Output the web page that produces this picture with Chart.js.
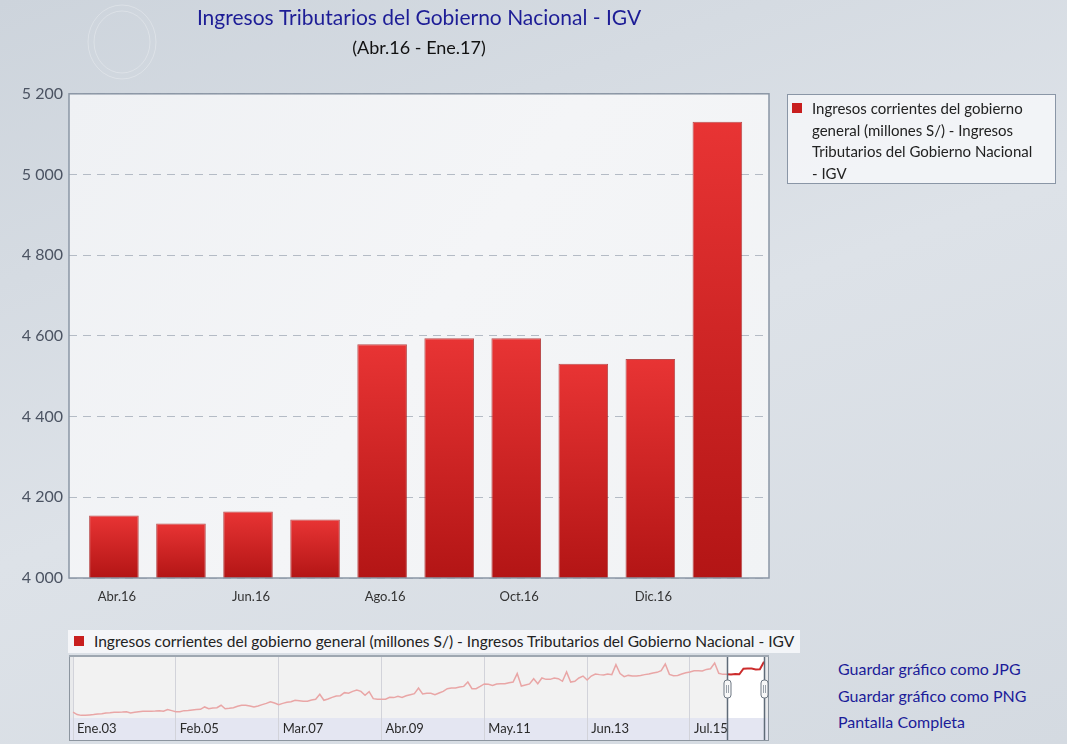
<!DOCTYPE html>
<html lang="es">
<head>
<meta charset="utf-8">
<title>Ingresos Tributarios del Gobierno Nacional - IGV</title>
<script src="https://cdn.jsdelivr.net/npm/chart.js@4.4.1/dist/chart.umd.min.js"></script>
<style>
    html, body { margin: 0; padding: 0; }
    body {
        position: relative;
        width: 1067px;
        height: 744px;
        overflow: hidden;
        font-family: Lato, "Open Sans", sans-serif;
        background: linear-gradient(160deg, #cdd4dc 0%, #dde2e8 50%, #d4dae1 100%);
    }
    #mainChart { position: absolute; left: 0; top: 0; }
    #navChart  { position: absolute; left: 68px; top: 654px; }

    .legend-side {
        position: absolute;
        left: 787px; top: 94px;
        width: 267px; height: 88px;
        border: 1px solid #8a96a6;
        background: rgba(246, 247, 249, 0.85);
        box-sizing: content-box;
    }
    .legend-side .txt {
        position: absolute;
        left: 24px; top: 3px;
        font-size: 15px;
        line-height: 21.7px;
        color: #222;
    }
    .swatch {
        position: absolute;
        width: 10px; height: 10px;
        background: #c81e1e;
    }
    .legend-nav {
        position: absolute;
        left: 68px; top: 630px;
        width: 732px; height: 23px;
        background: rgba(246, 247, 249, 0.9);
    }
    .legend-nav .txt {
        position: absolute;
        left: 26px; top: 1px;
        font-size: 15.5px;
        line-height: 21px;
        color: #222;
        white-space: nowrap;
    }
    .links {
        position: absolute;
        left: 838px; top: 656px;
        font-size: 16px;
        line-height: 26.5px;
        color: #1c1c99;
    }
</style>
</head>
<body>

<canvas id="mainChart" width="1067" height="620"></canvas>

<div class="legend-side">
    <span class="swatch" style="left:4px; top:8px;"></span>
    <div class="txt">Ingresos corrientes del gobierno<br>general (millones S/) - Ingresos<br>Tributarios del Gobierno Nacional<br>- IGV</div>
</div>

<div class="legend-nav">
    <span class="swatch" style="left:6px; top:6px;"></span>
    <div class="txt">Ingresos corrientes del gobierno general (millones S/) - Ingresos Tributarios del Gobierno Nacional - IGV</div>
</div>

<canvas id="navChart" width="702" height="88"></canvas>

<div class="links">
    Guardar gráfico como JPG<br>
    Guardar gráfico como PNG<br>
    Pantalla Completa
</div>

<script>
// Meses del gráfico principal
const months = ['Abr.16', 'May.16', 'Jun.16', 'Jul.16', 'Ago.16', 'Set.16', 'Oct.16', 'Nov.16', 'Dic.16', 'Ene.17'];

// IGV (millones S/)
const igvValues = [4155, 4135, 4165, 4145, 4579, 4594, 4594, 4531, 4543, 5131];

// Etiquetas de los ejes
const yTickValues = [4000, 4200, 4400, 4600, 4800, 5000, 5200];
const xTickLabels = ['Abr.16', 'Jun.16', 'Ago.16', 'Oct.16', 'Dic.16'];

// Serie histórica para el navegador, Ene.03 - Mar.16 (luego siguen los meses de arriba)
const igvHistory = [
    1190, 990, 930, 930, 960, 990, 1040, 1060, 1120, 1140, 1170, 1170,
    1190, 1220, 1120, 1170, 1220, 1250, 1250, 1250, 1270, 1300, 1250, 1380,
    1300, 1220, 1220, 1300, 1320, 1350, 1380, 1400, 1590, 1450, 1510, 1530,
    1720, 1450, 1480, 1530, 1640, 1720, 1720, 1660, 1590, 1660, 1770, 1870,
    2000, 1900, 1770, 1870, 1950, 2000, 2110, 2080, 2030, 2030, 2130, 2190,
    2580, 2110, 2210, 2340, 2450, 2470, 2710, 2660, 2810, 2920, 2810, 2500,
    2790, 2240, 2190, 2190, 2190, 2340, 2320, 2420, 2340, 2470, 2550, 2630,
    3070, 2600, 2660, 2660, 2550, 2680, 2810, 3020, 3070, 3070, 3150, 3200,
    3540, 3020, 3020, 3200, 3390, 3360, 3280, 3390, 3410, 3410, 3490, 3540,
    4200, 3230, 3310, 3390, 3800, 3410, 3860, 3750, 3750, 3860, 3800, 3600,
    4330, 3540, 3600, 3860, 4010, 3700, 4010, 4170, 4120, 4090, 4170, 4120,
    4900, 4200, 3960, 4060, 4010, 4010, 4060, 4120, 4170, 4250, 4300, 4430,
    4950, 4140, 4040, 4060, 4170, 4270, 4330, 4430, 4430, 4400, 4530, 4580,
    5030, 4220, 4140
];
const navTickLabels = ['Ene.03', 'Feb.05', 'Mar.07', 'Abr.09', 'May.11', 'Jun.13', 'Jul.15'];
const monthAbbr = ['Ene', 'Feb', 'Mar', 'Abr', 'May', 'Jun', 'Jul', 'Ago', 'Set', 'Oct', 'Nov', 'Dic'];
const firstYear = 2003;

Chart.defaults.font.family = "Lato, 'Open Sans', sans-serif";

function thousands(v) {
    return String(v).replace(/\B(?=(\d{3})+(?!\d))/g, ' ');
}

// degradado rojo vertical para cada barra
function barGradient(ctx) {
    const chart = ctx.chart;
    if (ctx.type !== 'data' || !chart.chartArea) return '#d42626';
    const yScale = chart.scales.y;
    const top = yScale.getPixelForValue(ctx.parsed.y);
    const bottom = yScale.getPixelForValue(yScale.min);
    if (!isFinite(top) || !isFinite(bottom) || top === bottom) return '#d42626';
    const g = chart.ctx.createLinearGradient(0, top, 0, bottom);
    g.addColorStop(0, '#e83434');
    g.addColorStop(1, '#b31515');
    return g;
}

// fondo y marco del área de trazado
const plotFrame = {
    id: 'plotFrame',
    beforeDraw(chart) {
        const { ctx, chartArea: a } = chart;
        ctx.save();
        // sello de fondo
        ctx.strokeStyle = 'rgba(255,255,255,0.28)';
        ctx.lineWidth = 1;
        ctx.beginPath();
        ctx.ellipse(122, 42, 34, 37, 0, 0, Math.PI * 2);
        ctx.stroke();
        ctx.beginPath();
        ctx.ellipse(122, 42, 28, 31, 0, 0, Math.PI * 2);
        ctx.stroke();
        const g = ctx.createLinearGradient(a.left, a.top, a.right, a.bottom);
        g.addColorStop(0, '#eff1f4');
        g.addColorStop(0.5, '#f4f5f7');
        g.addColorStop(1, '#f1f3f5');
        ctx.fillStyle = g;
        ctx.fillRect(a.left, a.top, a.right - a.left, a.bottom - a.top);
        ctx.restore();
    },
    afterDatasetsDraw(chart) {
        const { ctx, chartArea: a } = chart;
        ctx.save();
        ctx.strokeStyle = '#8a96a5';
        ctx.lineWidth = 1.5;
        ctx.strokeRect(a.left, a.top, a.right - a.left, a.bottom - a.top);
        ctx.restore();
    }
};

new Chart(document.getElementById('mainChart'), {
    type: 'bar',
    data: {
        datasets: [{
            label: 'Ingresos corrientes del gobierno general (millones S/) - Ingresos Tributarios del Gobierno Nacional - IGV',
            data: igvValues.map((v, i) => ({ x: i, y: v })),
            backgroundColor: barGradient,
            borderColor: 'rgba(165, 22, 22, 0.75)',
            borderWidth: 1,
            borderSkipped: false,
            barPercentage: 0.74,
            categoryPercentage: 1
        }]
    },
    options: {
        responsive: false,
        animation: false,
        layout: { padding: { left: 0, right: 298, top: 0, bottom: 0 } },
        scales: {
            x: {
                type: 'linear',
                offset: false,
                min: -0.67,
                max: 9.77,
                grid: { display: false, drawTicks: false },
                border: { display: false },
                afterBuildTicks(scale) {
                    scale.ticks = xTickLabels.map(l => ({ value: months.indexOf(l) }));
                },
                afterFit(scale) { scale.height = 42; },
                ticks: {
                    color: '#333',
                    font: { size: 13 },
                    padding: 11,
                    labelOffset: 3,
                    maxRotation: 0,
                    autoSkip: false,
                    callback: v => months[v]
                }
            },
            y: {
                min: 4000,
                max: 5200,
                grid: { color: '#b4bbc5', lineWidth: 1, drawTicks: false },
                border: { display: false, dash: [8, 6] },
                afterBuildTicks(scale) {
                    scale.ticks = yTickValues.map(v => ({ value: v }));
                },
                afterFit(scale) { scale.width = 69; },
                ticks: {
                    color: '#4b5362',
                    font: { size: 16 },
                    padding: 6,
                    callback: v => thousands(v)
                }
            }
        },
        plugins: {
            legend: { display: false },
            tooltip: { enabled: false },
            title: {
                display: true,
                fullSize: false,
                text: 'Ingresos Tributarios del Gobierno Nacional - IGV',
                color: '#1d1d96',
                font: { size: 21, weight: 'normal' },
                padding: { top: 6, bottom: 0 }
            },
            subtitle: {
                display: true,
                fullSize: false,
                text: '(Abr.16 - Ene.17)',
                color: '#111',
                font: { size: 18 },
                padding: { top: 6, bottom: 35 }
            }
        }
    },
    plugins: [plotFrame]
});

// ---- navegador inferior ----
const navSeries = igvHistory.concat(igvValues);
const navLabels = navSeries.map((_, i) =>
    monthAbbr[i % 12] + '.' + String((firstYear + Math.floor(i / 12)) % 100).padStart(2, '0'));
const selStart = igvHistory.length;
const selEnd = navSeries.length - 1;

const navFrame = {
    id: 'navFrame',
    beforeDraw(chart) {
        const { ctx, chartArea: a, width, height } = chart;
        const xs = chart.scales.x;
        ctx.save();
        ctx.fillStyle = '#e9eaec';
        ctx.fillRect(1, 1, width - 2, a.bottom - 1);
        ctx.fillStyle = '#f2f2f2';
        ctx.fillRect(a.left, a.top, a.right - a.left, a.bottom - a.top);
        ctx.fillStyle = '#e4e6f2';
        ctx.fillRect(1, a.bottom, width - 2, height - 2 - a.bottom);
        const x0 = xs.getPixelForValue(selStart);
        const x1 = xs.getPixelForValue(selEnd);
        ctx.fillStyle = '#ffffff';
        ctx.fillRect(x0, a.top, x1 - x0, a.bottom - a.top);
        ctx.restore();
    },
    afterDraw(chart) {
        const { ctx, chartArea: a, width, height } = chart;
        const xs = chart.scales.x;
        ctx.save();
        // marco
        ctx.strokeStyle = '#8c959f';
        ctx.lineWidth = 1;
        ctx.strokeRect(1.5, 1.5, width - 3, height - 3);
        ctx.strokeStyle = '#9ea7b1';
        ctx.lineWidth = 2;
        ctx.beginPath();
        ctx.moveTo(1, 2);
        ctx.lineTo(width - 1, 2);
        ctx.stroke();
        // límites de la selección y manijas
        [selStart, selEnd].forEach(idx => {
            const x = Math.round(xs.getPixelForValue(idx)) + 0.5;
            ctx.strokeStyle = '#5f6b78';
            ctx.lineWidth = 1.5;
            ctx.beginPath();
            ctx.moveTo(x, a.top);
            ctx.lineTo(x, height - 2);
            ctx.stroke();
            const hy = 26, hw = 7, hh = 18;
            ctx.beginPath();
            ctx.roundRect(x - hw / 2, hy, hw, hh, 3);
            ctx.fillStyle = '#f7f7f7';
            ctx.fill();
            ctx.strokeStyle = '#6f7984';
            ctx.lineWidth = 1;
            ctx.stroke();
            ctx.beginPath();
            ctx.moveTo(x - 1, hy + 5);
            ctx.lineTo(x - 1, hy + hh - 5);
            ctx.moveTo(x + 1, hy + 5);
            ctx.lineTo(x + 1, hy + hh - 5);
            ctx.strokeStyle = '#9aa2ab';
            ctx.stroke();
        });
        ctx.restore();
    }
};

new Chart(document.getElementById('navChart'), {
    type: 'line',
    data: {
        labels: navLabels,
        datasets: [{
            data: navSeries,
            pointRadius: 0,
            borderWidth: 1.5,
            tension: 0,
            segment: {
                borderColor: c => c.p0DataIndex >= selStart ? '#cc2c2c' : '#e9a6a6',
                borderWidth: c => c.p0DataIndex >= selStart ? 2 : 1.5
            }
        }]
    },
    options: {
        responsive: false,
        animation: false,
        layout: { padding: { left: 5, right: 6, top: 3, bottom: 2 } },
        scales: {
            x: {
                type: 'category',
                offset: false,
                grid: { color: '#d2d3da', lineWidth: 1, tickLength: 22, drawTicks: true, offset: false },
                border: { display: false },
                afterBuildTicks(scale) {
                    scale.ticks = navTickLabels.map(l => ({ value: navLabels.indexOf(l) }));
                },
                afterFit(scale) { scale.height = 22; },
                ticks: {
                    color: '#2a2a2a',
                    font: { size: 13 },
                    align: 'start',
                    labelOffset: 4,
                    padding: -19,
                    maxRotation: 0,
                    autoSkip: false,
                    callback: function (v) { return this.getLabelForValue(v); }
                }
            },
            y: {
                display: false,
                min: 724,
                max: 5500
            }
        },
        plugins: {
            legend: { display: false },
            tooltip: { enabled: false }
        }
    },
    plugins: [navFrame]
});
</script>
</body>
</html>
